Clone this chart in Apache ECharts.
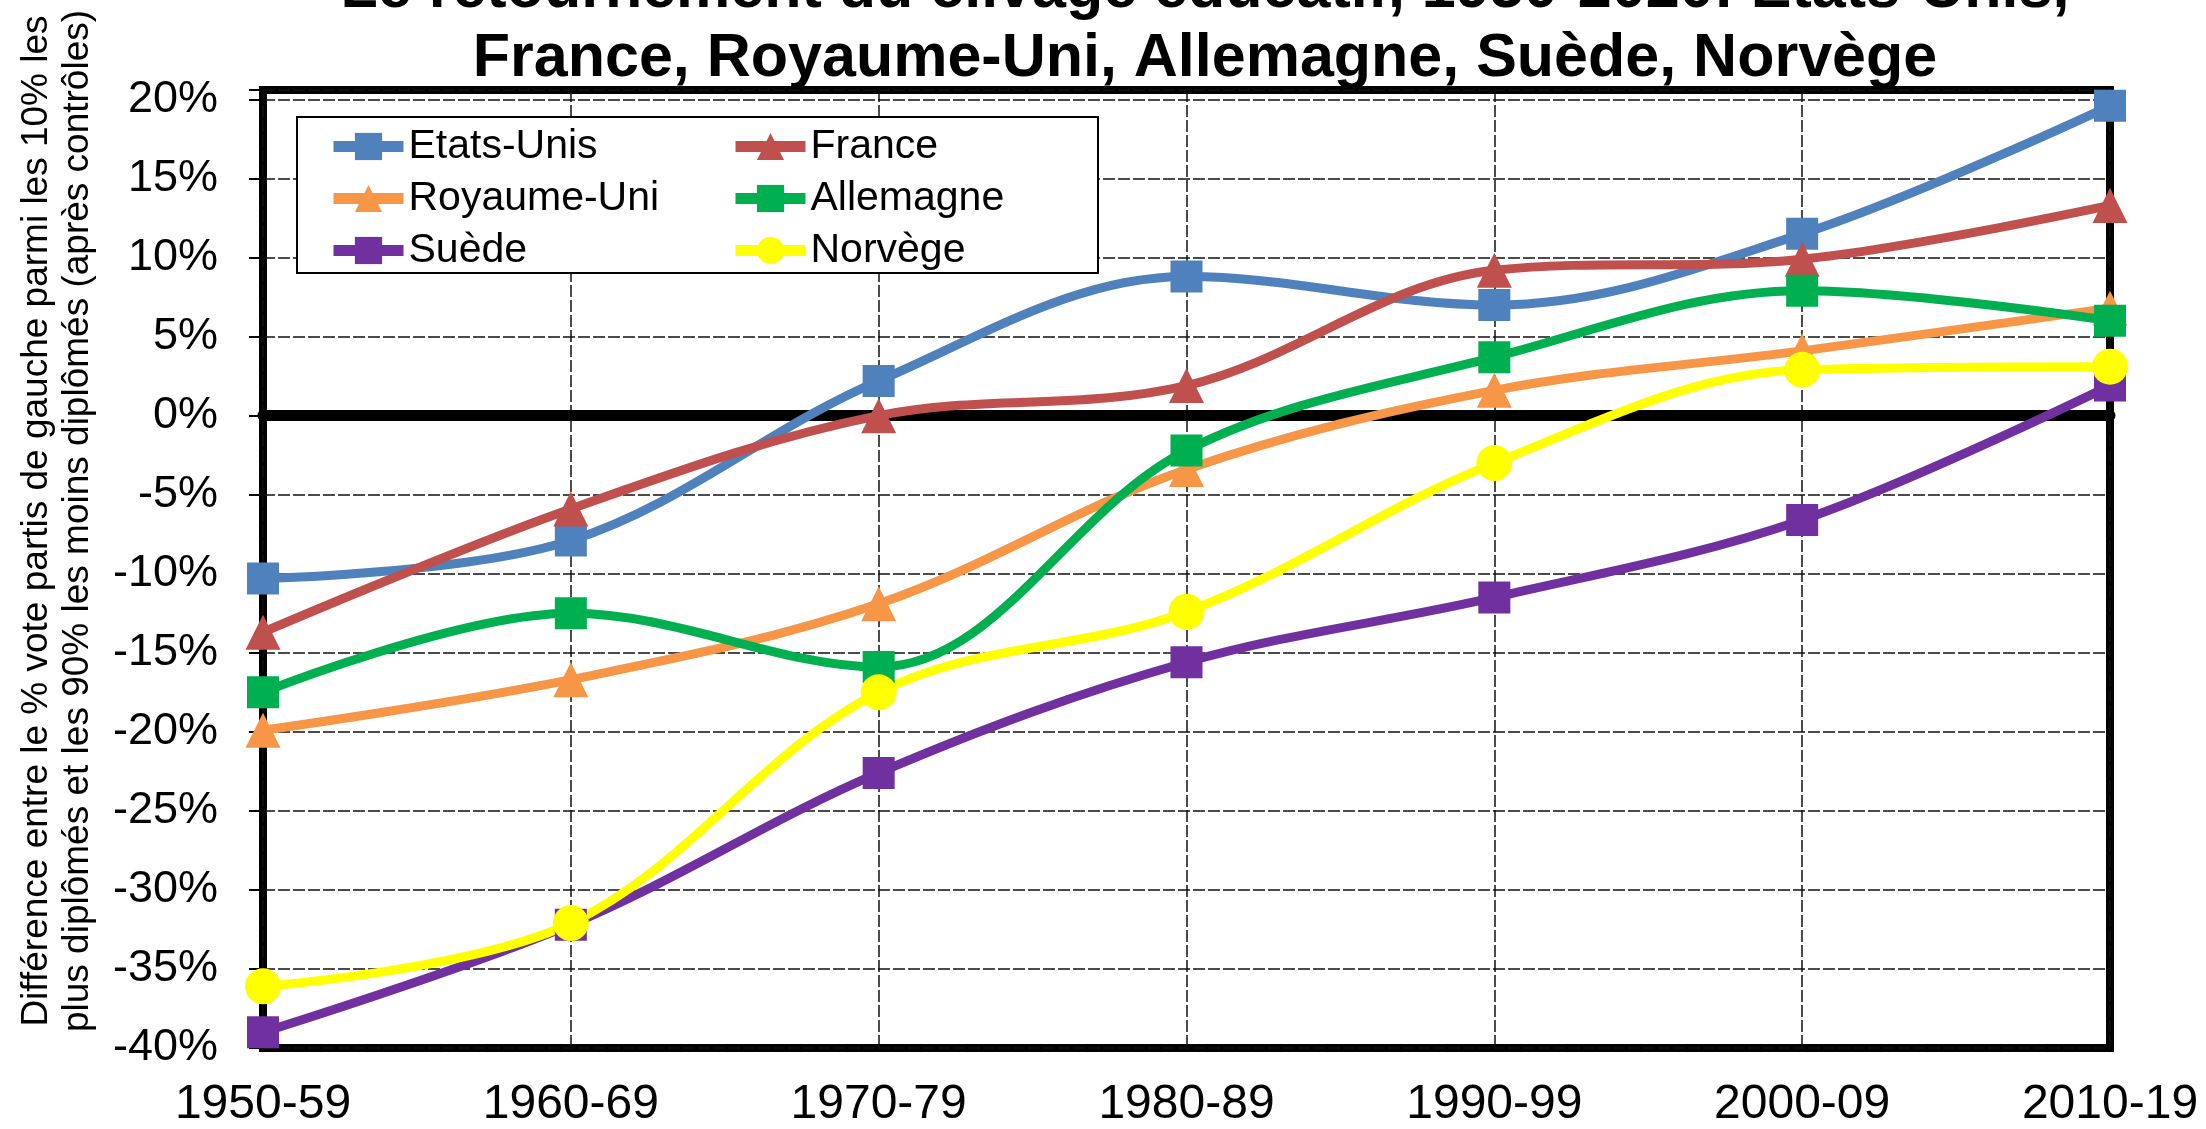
<!DOCTYPE html>
<html>
<head>
<meta charset="utf-8">
<script src="https://cdn.jsdelivr.net/npm/echarts@6/dist/echarts.min.js"></script>
<style>
html,body{margin:0;padding:0;background:#fff;}
#chart{width:2206px;height:1129px;}
</style>
</head>
<body>
<div id="chart"></div>
<script>
var categories = ['1950-59', '1960-69', '1970-79', '1980-89', '1990-99', '2000-09', '2010-19'];
var etatsUnis   = [-10.3, -7.9, 2.2, 8.8, 7.0, 11.5, 19.6];
var france      = [-13.7, -5.9, 0.0, 1.9, 9.2, 9.9, 13.3];
var royaumeUni  = [-19.9, -16.7, -11.9, -3.4, 1.6, 4.1, 6.8];
var allemagne   = [-17.5, -12.5, -15.9, -2.2, 3.7, 7.9, 6.0];
var suede       = [-39.0, -32.2, -22.6, -15.6, -11.5, -6.6, 1.9];
var norvege     = [-36.1, -32.1, -17.5, -12.4, -3.0, 2.9, 3.1];
var yTicks = [-40, -35, -30, -25, -20, -15, -10, -5, 0, 5, 10, 15, 20];

var titleText = 'Le retournement du clivage éducatif, 1950-2020: Etats-Unis,\nFrance, Royaume-Uni, Allemagne, Suède, Norvège';
var yName = 'Différence entre le % vote partis de gauche parmi les 10% les\nplus diplômés et les 90% les moins diplômés (après contrôles)';

var FONT = '"Liberation Sans", Arial, sans-serif';

function mk(name, data, color, symbol, size) {
  return {
    name: name, type: 'line', data: data, smooth: 0.35,
    symbol: symbol, symbolSize: size,
    lineStyle: {color: color, width: 9},
    itemStyle: {color: color},
    emphasis: {disabled: true},
    z: 3
  };
}

var chart = echarts.init(document.getElementById('chart'), null, {renderer: 'canvas'});
var legendCommon = {
  orient: 'vertical', padding: 0, top: 126,
  itemWidth: 70, itemHeight: 34, itemGap: 11,
  textStyle: {fontSize: 41, fontFamily: FONT, color: '#000', lineHeight: 34},
  lineStyle: {width: 11},
  z: 6
};
chart.setOption({
  animation: false,
  backgroundColor: '#fff',
  textStyle: {fontFamily: FONT},
  title: {
    text: titleText, left: 1205, top: -44, padding: 0, textAlign: 'center',
    textStyle: {fontSize: 61, fontWeight: 'bold', fontFamily: FONT, color: '#000', lineHeight: 69}
  },
  legend: [
    Object.assign({}, legendCommon, {left: 328, data: ['Etats-Unis', 'Royaume-Uni', 'Suède']}),
    Object.assign({}, legendCommon, {left: 730, data: ['France', 'Allemagne', 'Norvège']})
  ],
  grid: {
    left: 263, right: 96, top: 90, bottom: 78,
    show: true, borderColor: '#000', borderWidth: 8, backgroundColor: 'transparent'
  },
  xAxis: [{
    type: 'category', data: categories, boundaryGap: false,
    axisLine: {show: false, onZero: false},
    axisTick: {show: false},
    axisLabel: {fontSize: 48, color: '#000', margin: 33, fontFamily: FONT},
    splitLine: {show: true, lineStyle: {color: '#111', width: 1.5, type: [12, 3]}}
  }, {
    type: 'category', data: categories, boundaryGap: false, position: 'bottom',
    axisLine: {show: true, onZero: true, lineStyle: {color: '#000', width: 11}},
    axisTick: {show: false}, axisLabel: {show: false}, splitLine: {show: false}
  }],
  yAxis: {
    type: 'value', min: yTicks[0], max: 20.6, interval: 5,
    axisLine: {show: false},
    axisTick: {show: true, length: 14, lineStyle: {color: '#000', width: 2}},
    axisLabel: {
      fontSize: 45, color: '#000', margin: 45, fontFamily: FONT,
      formatter: function (v) { return yTicks.indexOf(Math.round(v * 1000) / 1000) >= 0 ? v + '%' : ''; }
    },
    splitLine: {show: true, lineStyle: {color: '#111', width: 1.5, type: [12, 3]}}
  },
  graphic: [{
    type: 'rect', z: 5,
    shape: {x: 297, y: 117, width: 801, height: 156},
    style: {fill: '#fff', stroke: '#000', lineWidth: 2}
  }, {
    type: 'text', x: 57, y: 521, rotation: Math.PI / 2,
    style: {
      text: yName, fontSize: 37, fontFamily: FONT, fill: '#000',
      lineHeight: 41, align: 'center', verticalAlign: 'middle'
    }
  }],
  series: [
    mk('Etats-Unis', etatsUnis, '#4F81BD', 'rect', 32),
    mk('France', france, '#C0504D', 'triangle', 35),
    mk('Royaume-Uni', royaumeUni, '#F79646', 'triangle', 35),
    mk('Allemagne', allemagne, '#00B050', 'rect', 32),
    mk('Suède', suede, '#7030A0', 'rect', 32),
    mk('Norvège', norvege, '#FFFF00', 'circle', 36)
  ]
});
</script>
</body>
</html>
